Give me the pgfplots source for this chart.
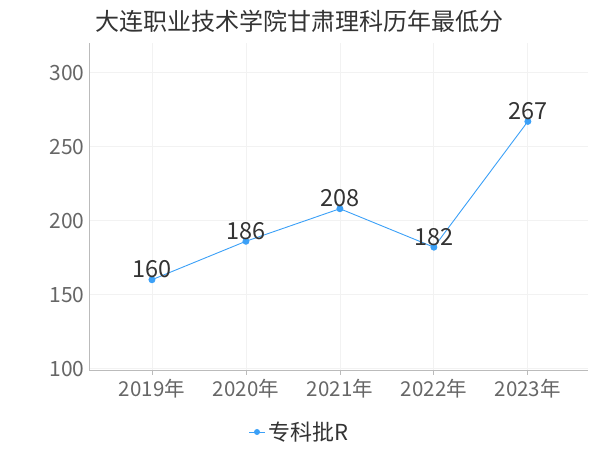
\documentclass[border=0pt]{standalone}
\usepackage{pgfplots}
\pgfplotsset{compat=1.18}
\usepackage{fontspec}
\setmainfont{Noto Sans CJK SC}
\definecolor{linec}{HTML}{3BA0F7}
\definecolor{gridc}{HTML}{F2F2F2}
\definecolor{axisc}{HTML}{BBBBBB}
\definecolor{tickc}{HTML}{666666}
\definecolor{labc}{HTML}{333333}
\begin{document}
\begin{tikzpicture}[x=1bp,y=1bp]
\path[use as bounding box] (0,0) rectangle (600,450);
\begin{axis}[
    at={(89bp,80bp)}, anchor=south west,
    scale only axis,
    width=499bp, height=327bp,
    xmin=-0.67, xmax=4.64,
    ymin=99, ymax=320,
    xtick={0,1,2,3,4},
    xticklabels={2019年,2020年,2021年,2022年,2023年},
    ytick={100,150,200,250,300},
    grid=major,
    major grid style={gridc, line width=0.8bp},
    axis x line*=bottom, axis y line*=left,
    axis line style={axisc, line width=0.8bp, -},
    x tick style={axisc, line width=0.8bp},
    major x tick style={axisc},
    xtick align=outside, ytick style={draw=none},
    major tick length=5bp,
    xticklabel style={font=\fontsize{20.5bp}{20.5bp}\selectfont, text=tickc, yshift=-1bp},
    yticklabel style={font=\fontsize{21bp}{21bp}\selectfont, text=tickc, xshift=-1bp},
    /pgf/number format/assume math mode=true,
    clip=false,
    nodes near coords,
    every node near coord/.append style={font=\fontsize{23.5bp}{23.5bp}\selectfont, text=labc, yshift=-2bp},
]
\addplot[linec, line width=0.9bp, mark=*, mark size=3bp, mark options={fill=linec, draw=linec}]
  coordinates {(0,160) (1,186) (2,208) (3,182) (4,267)};
\end{axis}
\node[anchor=west, font=\fontsize{24bp}{24bp}\selectfont, text=labc, inner sep=0pt] at (95,429) {大连职业技术学院甘肃理科历年最低分};
\draw[linec, line width=0.9bp] (249,18) -- (265,18);
\fill[linec] (257,18) circle (3bp);
\node[anchor=west, font=\fontsize{22bp}{22bp}\selectfont, text=labc, inner sep=0pt] at (268,18) {专科批R};
\end{tikzpicture}
\end{document}
